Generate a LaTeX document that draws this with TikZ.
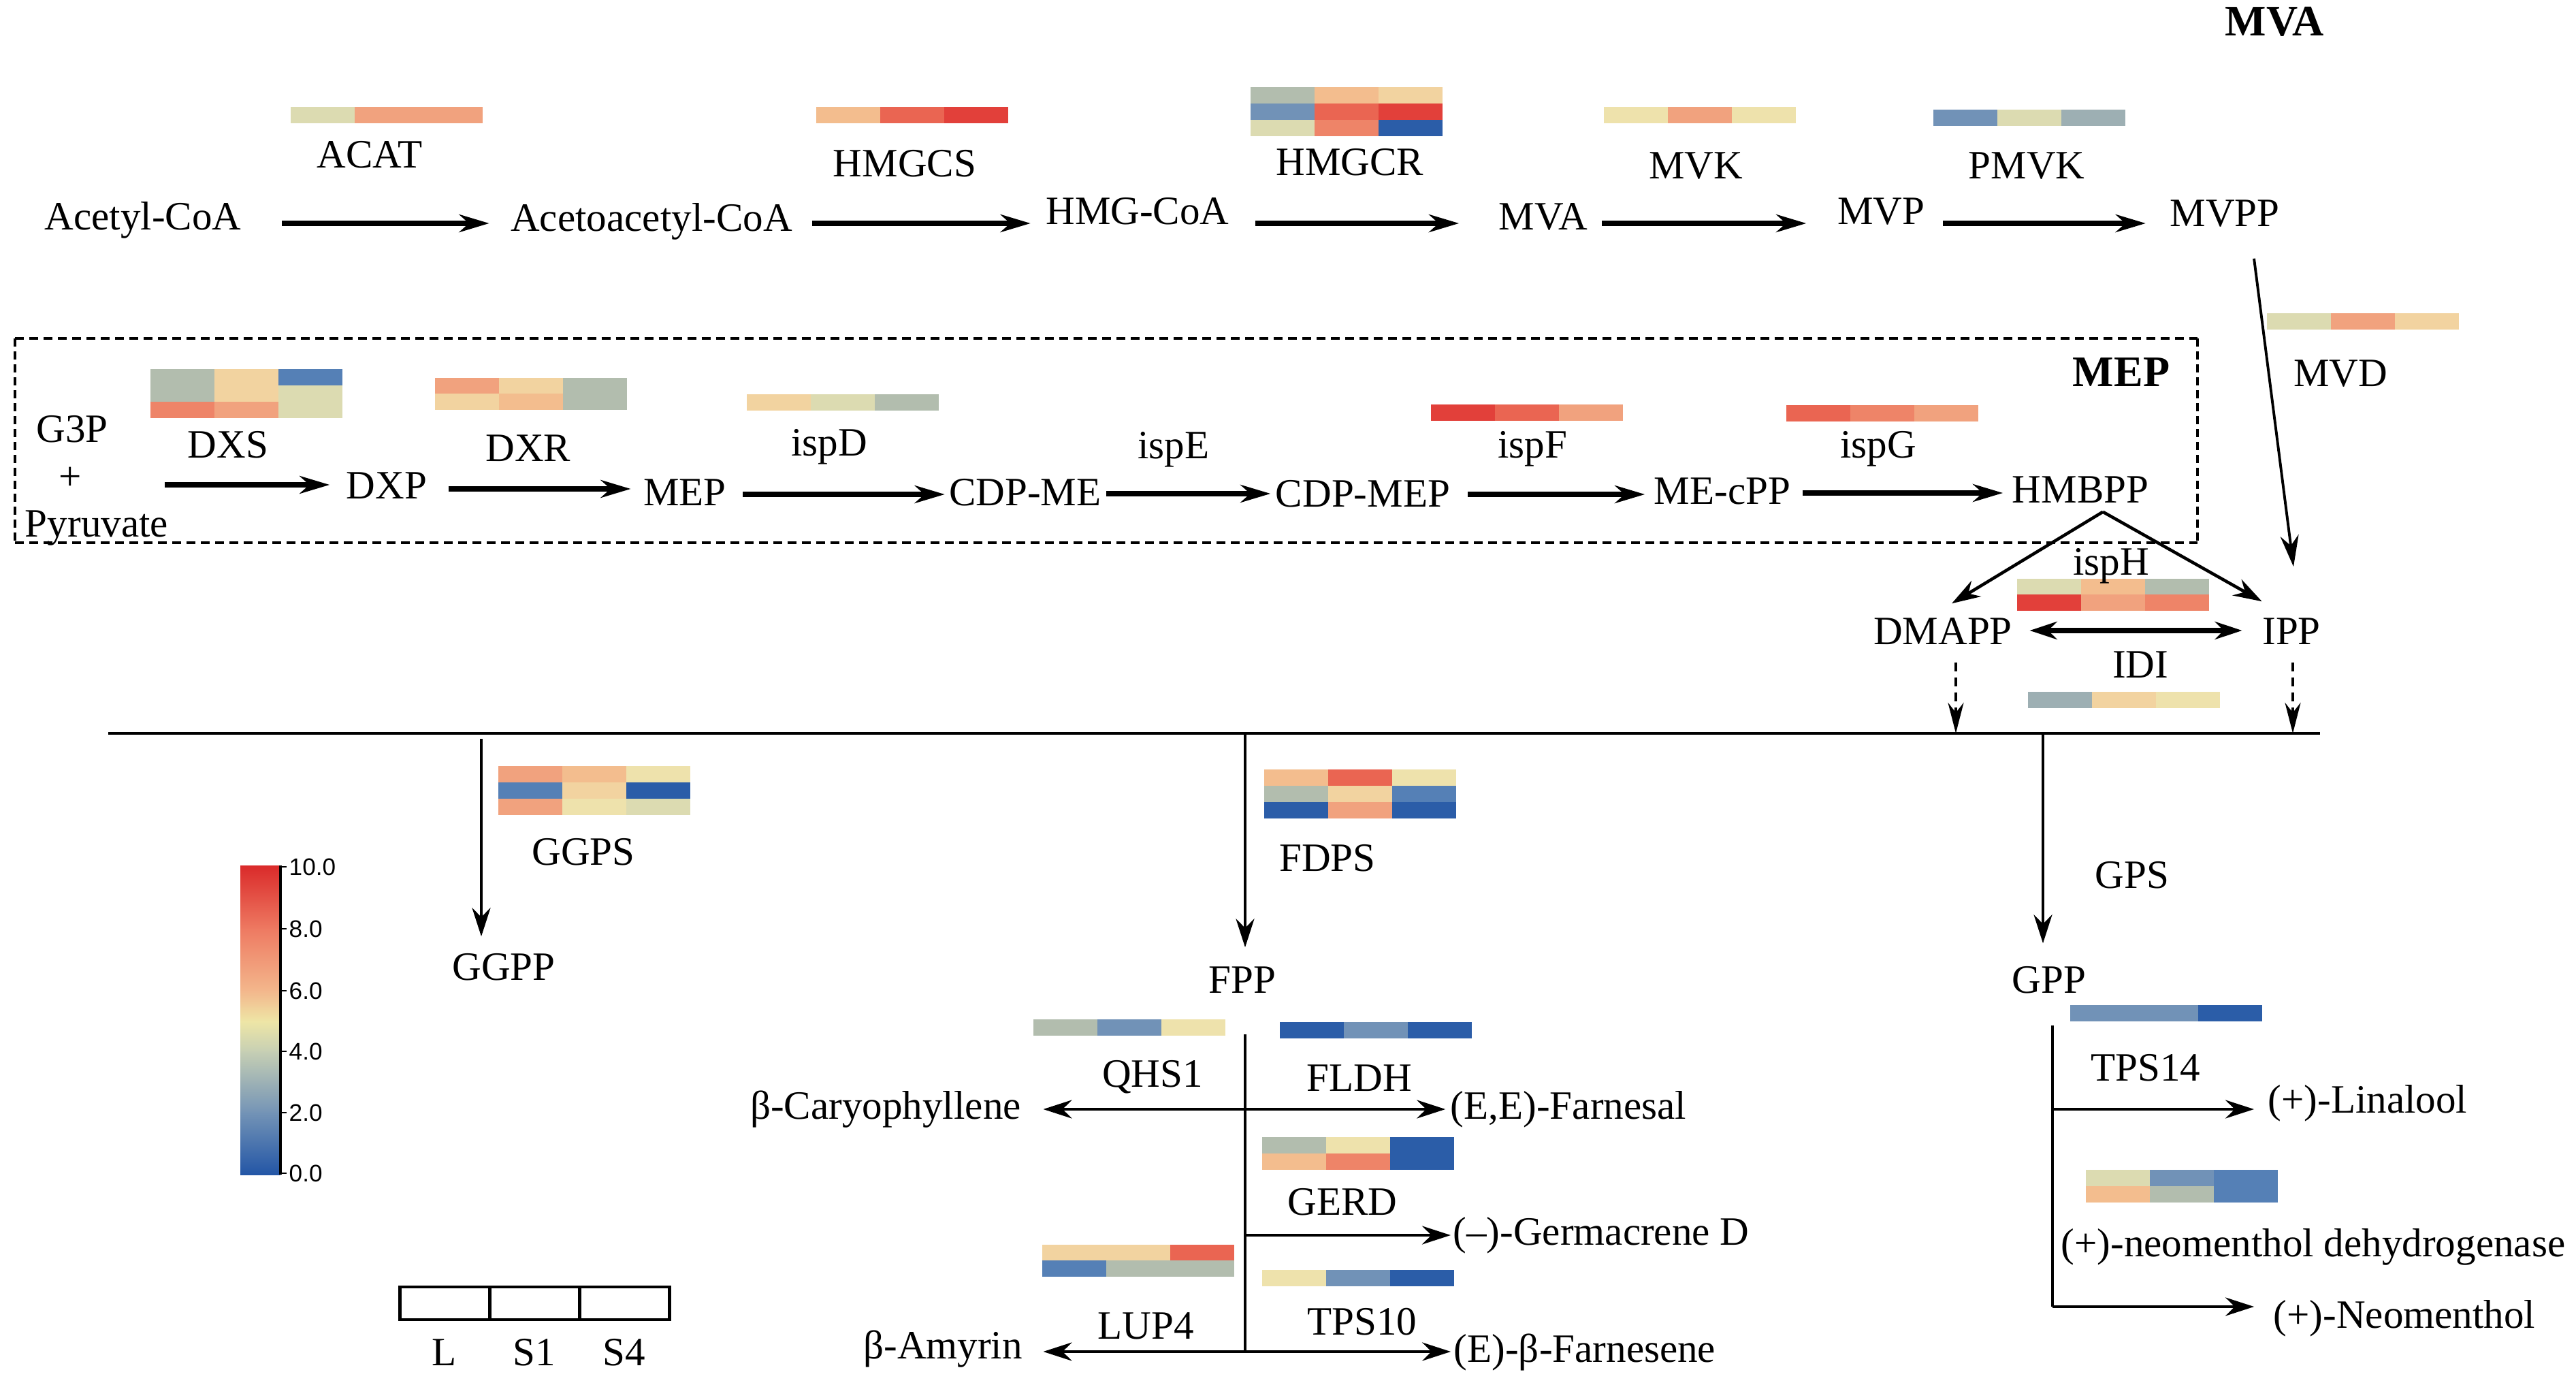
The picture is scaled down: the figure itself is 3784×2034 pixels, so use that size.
\documentclass[tikz,border=0pt]{standalone}
\usepackage{fontspec}
\setmainfont{Liberation Serif}
\newfontfamily\cbfont{Liberation Sans}
\usetikzlibrary{arrows.meta}
\definecolor{hR}{HTML}{E2403A}
\definecolor{hR8}{HTML}{EA6552}
\definecolor{hS7}{HTML}{EE8468}
\definecolor{hS6}{HTML}{F1A27E}
\definecolor{hP55}{HTML}{F3BD8E}
\definecolor{hP5}{HTML}{F2D3A0}
\definecolor{hY}{HTML}{EEE2AC}
\definecolor{hYG}{HTML}{DCDBB1}
\definecolor{hG}{HTML}{B2BDAE}
\definecolor{hGB}{HTML}{9DAFB3}
\definecolor{hB2}{HTML}{7192B7}
\definecolor{hB1}{HTML}{5580B6}
\definecolor{hB0}{HTML}{2B5DA8}
\definecolor{cb0}{HTML}{2356A6}
\definecolor{cb2}{HTML}{7393B6}
\definecolor{cb4}{HTML}{C6CFB4}
\definecolor{cb5}{HTML}{EEE6A6}
\definecolor{cb6}{HTML}{F3B78C}
\definecolor{cb8}{HTML}{EE7A62}
\definecolor{cb10}{HTML}{DA2A2A}
\newcommand\fs{\fontsize{16.8pt}{20pt}\selectfont}
\newcommand\fsb{\fontsize{18.2pt}{22pt}\selectfont\bfseries}
% heat map row: x, y(top), three colours
\newcommand\hmrow[5]{%
  \fill[#3] (#1,#2) rectangle ++(95,24);
  \fill[#4] (#1+94,#2) rectangle ++(95,24);
  \fill[#5] (#1+188,#2) rectangle ++(94,24);}
\begin{document}
\begin{tikzpicture}[x=0.01cm,y=-0.01cm,
  lbl/.style={font=\fs, inner sep=0pt, anchor=base, text height=0.40cm, text depth=0.12cm},
  hdr/.style={font=\fsb, inner sep=0pt, anchor=base},
  thickarr/.style={line width=2pt, -{Stealth[length=0.44cm,width=0.26cm]}},
  dblarr/.style={line width=2pt, {Stealth[length=0.40cm,width=0.26cm]}-{Stealth[length=0.40cm,width=0.26cm]}},
  medarr/.style={line width=1.3pt, -{Stealth[length=0.42cm,width=0.27cm]}},
  thinarr/.style={line width=1.1pt, -{Stealth[length=0.46cm,width=0.27cm]}},
  dasharr/.style={line width=1.1pt, dash pattern=on 0.13cm off 0.09cm, -{Stealth[length=0.45cm,width=0.23cm]}},
  plainline/.style={line width=1.4pt},
  boxdashh/.style={line width=1.3pt, dash pattern=on 0.13cm off 0.08cm},
  boxdashv/.style={line width=1.3pt, dash pattern=on 0.12cm off 0.07cm},
  legcell/.style={draw, line width=1.2pt, minimum width=1.32cm, minimum height=0.48cm, inner sep=0pt},
  cblbl/.style={font=\cbfont\fontsize{10pt}{12pt}\selectfont, anchor=west, inner sep=0pt}
]
\useasboundingbox (0,0) rectangle (3784,2034);

% ---------------- heat maps ----------------
\hmrow{427}{157}{hYG}{hS6}{hS6}          % ACAT
\hmrow{1199}{157}{hP55}{hR8}{hR}         % HMGCS
\hmrow{1837}{128}{hG}{hP55}{hP5}         % HMGCR
\hmrow{1837}{152}{hB2}{hR8}{hR}
\hmrow{1837}{176}{hYG}{hS7}{hB0}
\hmrow{2356}{157}{hY}{hS6}{hY}           % MVK
\hmrow{2840}{161}{hB2}{hYG}{hGB}         % PMVK
\hmrow{3330}{460}{hYG}{hS6}{hP5}         % MVD
\hmrow{221}{542}{hG}{hP5}{hB1}           % DXS
\hmrow{221}{566}{hG}{hP5}{hYG}
\hmrow{221}{590}{hS7}{hS6}{hYG}
\hmrow{639}{555}{hS6}{hP5}{hG}           % DXR
\hmrow{639}{578}{hP5}{hP55}{hG}
\hmrow{1097}{579}{hP5}{hYG}{hG}          % ispD
\hmrow{2102}{594}{hR}{hR8}{hS6}          % ispF
\hmrow{2624}{595}{hR8}{hS7}{hS6}         % ispG
\hmrow{2963}{850}{hYG}{hP55}{hG}         % ispH
\hmrow{2963}{873}{hR}{hS6}{hS7}
\hmrow{2979}{1016}{hGB}{hP5}{hY}         % IDI
\hmrow{732}{1125}{hS6}{hP55}{hY}         % GGPS
\hmrow{732}{1149}{hB1}{hP5}{hB0}
\hmrow{732}{1173}{hS6}{hY}{hYG}
\hmrow{1857}{1130}{hP55}{hR8}{hY}        % FDPS
\hmrow{1857}{1154}{hG}{hP5}{hB1}
\hmrow{1857}{1178}{hB0}{hS6}{hB0}
\hmrow{1518}{1497}{hG}{hB2}{hY}          % QHS1
\hmrow{1880}{1501}{hB0}{hB2}{hB0}        % FLDH
\hmrow{1854}{1670}{hG}{hY}{hB0}          % GERD
\hmrow{1854}{1694}{hP55}{hS7}{hB0}
\hmrow{1531}{1828}{hP5}{hP5}{hR8}        % LUP4
\hmrow{1531}{1851}{hB1}{hG}{hG}
\hmrow{1854}{1865}{hY}{hB2}{hB0}         % TPS10
\hmrow{3041}{1476}{hB2}{hB2}{hB0}        % TPS14
\hmrow{3064}{1718}{hYG}{hB2}{hB1}        % (+)-neomenthol dehydrogenase
\hmrow{3064}{1742}{hP55}{hG}{hB1}

% ---------------- MVA pathway ----------------
\node[hdr] (mvaT) at (3341,53) {MVA};
\node[lbl] (acat) at (543,247) {ACAT};
\node[lbl] (hmgcs) at (1329,260) {HMGCS};
\node[lbl] (hmgcr) at (1983,258) {HMGCR};
\node[lbl] (mvk) at (2491,263) {MVK};
\node[lbl] (pmvk) at (2977,263) {PMVK};
\node[lbl] (acetyl) at (210,338) {Acetyl-CoA};
\node[lbl] (acetoac) at (957,340) {Acetoacetyl-CoA};
\node[lbl] (hmgcoa) at (1671,330) {HMG-CoA};
\node[lbl] (mva) at (2267,338) {MVA};
\node[lbl] (mvp) at (2763,330) {MVP};
\node[lbl] (mvpp) at (3268,333) {MVPP};
\node[lbl] (mvd) at (3438,568) {MVD};

\coordinate (rA) at (0,328);
\draw[thickarr, shorten <=0.59cm, shorten >=0.31cm] (acetyl.east |- rA) -- (acetoac.west |- rA);
\draw[thickarr, shorten <=0.29cm, shorten >=0.22cm] (acetoac.east |- rA) -- (hmgcoa.west |- rA);
\draw[thickarr, shorten <=0.38cm, shorten >=0.58cm] (hmgcoa.east |- rA) -- (mva.west |- rA);
\draw[thickarr, shorten <=0.20cm, shorten >=0.45cm] (mva.east |- rA) -- (mvp.west |- rA);
\draw[thickarr, shorten <=0.26cm, shorten >=0.35cm] (mvp.east |- rA) -- (mvpp.west |- rA);

% ---------------- MEP pathway ----------------
\coordinate (bxTL) at (22,497);
\coordinate (bxBR) at (3228,797);
\draw[boxdashh] (bxTL) -- (bxTL -| bxBR);
\draw[boxdashh] (bxTL |- bxBR) -- (bxBR);
\draw[boxdashv] (bxTL) -- (bxTL |- bxBR);
\draw[boxdashv] (bxTL -| bxBR) -- (bxBR);
\node[hdr] (mepT) at (3116,568) {MEP};
\node[lbl] (g3p) at (106,650) {G3P};
\node[lbl] (plus) at (103,720) {+};
\node[lbl] (pyr) at (142,789) {Pyruvate};
\node[lbl] (dxs) at (335,673) {DXS};
\node[lbl] (dxr) at (776,678) {DXR};
\node[lbl] (ispd) at (1218,670) {ispD};
\node[lbl] (ispe) at (1724,674) {ispE};
\node[lbl] (ispf) at (2251,673) {ispF};
\node[lbl] (ispg) at (2759,673) {ispG};
\node[lbl] (dxp) at (568,733) {DXP};
\node[lbl] (mep) at (1006,743) {MEP};
\node[lbl] (cdpme) at (1506,743) {CDP-ME};
\node[lbl] (cdpmep) at (2002,745) {CDP-MEP};
\node[lbl] (mecpp) at (2530,741) {ME-cPP};
\node[lbl] (hmbpp) at (3056,739) {HMBPP};
\node[lbl] (isph) at (3101,844) {ispH};
\node[lbl] (dmapp) at (2854,946) {DMAPP};
\node[lbl] (ipp) at (3366,946) {IPP};
\node[lbl] (idi) at (3144,995) {IDI};

\coordinate (rB1) at (0,712);
\coordinate (rB2) at (0,718);
\coordinate (rB3) at (0,726);
\coordinate (rB4) at (0,725);
\coordinate (rB5) at (0,726);
\coordinate (rB6) at (0,724);
\draw[thickarr, shorten <=1.22cm, shorten >=0.24cm] (plus.east |- rB1) -- (dxp.west |- rB1);
\draw[thickarr, shorten <=0.31cm, shorten >=0.18cm] (dxp.east |- rB2) -- (mep.west |- rB2);
\draw[thickarr, shorten <=0.24cm, shorten >=0.06cm] (mep.east |- rB3) -- (cdpme.west |- rB3);
\draw[thickarr, shorten <=0.07cm, shorten >=0.07cm] (cdpme.east |- rB4) -- (cdpmep.west |- rB4);
\draw[thickarr, shorten <=0.25cm, shorten >=0.13cm] (cdpmep.east |- rB5) -- (mecpp.west |- rB5);
\draw[thickarr, shorten <=0.17cm, shorten >=0.13cm] (mecpp.east |- rB6) -- (hmbpp.west |- rB6);

% MVPP -> IPP (MVD)
\draw[thinarr] ([xshift=0.43cm,yshift=-0.34cm]mvpp.south) -- ([xshift=0.03cm,yshift=0.73cm]ipp.north);
% HMBPP -> DMAPP / IPP (ispH)
\draw[medarr] ([xshift=0.33cm]hmbpp.south) -- ([xshift=0.13cm,yshift=0.19cm]dmapp.north);
\draw[medarr] ([xshift=0.33cm]hmbpp.south) -- ([yshift=0.22cm]ipp.north west);
% DMAPP <-> IPP (IDI)
\coordinate (rI) at (0,926);
\draw[dblarr, shorten <=0.25cm, shorten >=0.29cm] (dmapp.east |- rI) -- (ipp.west |- rI);

% ---------------- main line ----------------
\coordinate (mL) at (159,1077);
\coordinate (mR) at (3408,1077);
\draw[plainline] (mL) -- (mR);
\coordinate (jD) at (2873,1077);
\coordinate (jI) at (3368,1077);
\draw[dasharr, shorten <=0.14cm] (dmapp.south -| jD) -- (jD);
\draw[dasharr, shorten <=0.14cm] (ipp.south -| jI) -- (jI);

% ---------------- GGPP branch ----------------
\node[lbl] (ggps) at (857,1270) {GGPS};
\node[lbl] (ggpp) at (740,1439) {GGPP};
\coordinate (jG) at (707,1077);
\draw[medarr, shorten <=0.08cm, shorten >=0.23cm] (jG) -- (jG |- ggpp.north);

% ---------------- FPP branch ----------------
\node[lbl] (fdps) at (1950,1279) {FDPS};
\node[lbl] (fpp) at (1825,1458) {FPP};
\coordinate (jF) at (1829,1077);
\draw[medarr, shorten >=0.26cm] (jF) -- (jF |- fpp.north);
\node[lbl] (qhs1) at (1693,1596) {QHS1};
\node[lbl] (fldh) at (1997,1602) {FLDH};
\node[lbl] (caryo) at (1301,1643) {β-Caryophyllene};
\node[lbl] (farnesal) at (2304,1643) {(E,E)-Farnesal};
\node[lbl] (gerd) at (1972,1784) {GERD};
\node[lbl] (germ) at (2352,1828) {(–)-Germacrene D};
\node[lbl] (lup4) at (1683,1966) {LUP4};
\node[lbl] (tps10) at (2001,1960) {TPS10};
\node[lbl] (amyrin) at (1385,1995) {β-Amyrin};
\node[lbl] (farnesene) at (2328,2000) {(E)-β-Farnesene};
\coordinate (fB) at (1829,1985);
\draw[plainline, shorten <=0.48cm] (fpp.south -| fB) -- (fB);
\draw[medarr, shorten >=0.32cm] (caryo.east -| fB) -- (caryo.east);
\draw[medarr, shorten >=0.07cm] (farnesal.west -| fB) -- (farnesal.west);
\draw[medarr, shorten >=0.03cm] (germ.west -| fB) -- (germ.west);
\draw[medarr, shorten >=0.30cm] (fB) -- (fB -| amyrin.east);
\draw[medarr, shorten >=0.04cm] (fB) -- (fB -| farnesene.west);

% ---------------- GPP branch ----------------
\node[lbl] (gps) at (3132,1304) {GPS};
\node[lbl] (gpp) at (3010,1458) {GPP};
\coordinate (jP) at (3001,1077);
\draw[medarr, shorten >=0.32cm] (jP) -- (jP |- gpp.north);
\node[lbl] (tps14) at (3152,1587) {TPS14};
\node[lbl] (linalool) at (3478,1634) {(+)-Linalool};
\node[lbl] (neodh) at (3398,1845) {(+)-neomenthol dehydrogenase};
\node[lbl] (neomenthol) at (3532,1950) {(+)-Neomenthol};
\coordinate (gB) at (3015,1919);
\coordinate (gL) at (3015,1629);
\draw[plainline, shorten <=0.35cm] (gpp.south -| gB) -- (gB);
\draw[medarr, shorten >=0.20cm] (gL) -- (gL -| linalool.west);
\draw[medarr, shorten >=0.28cm] (gB) -- (gB -| neomenthol.west);

% ---------------- colour bar ----------------
\shade[top color=cb10, bottom color=cb8] (353,1271) rectangle (412,1365);
\shade[top color=cb8, bottom color=cb6] (353,1364) rectangle (412,1456);
\shade[top color=cb6, bottom color=cb5] (353,1455) rectangle (412,1501);
\shade[top color=cb5, bottom color=cb4] (353,1500) rectangle (412,1545);
\shade[top color=cb4, bottom color=cb2] (353,1544) rectangle (412,1635);
\shade[top color=cb2, bottom color=cb0] (353,1634) rectangle (412,1725);
\draw[line width=0.9pt] (412,1271) -- (412,1725);
\foreach \v/\yy [count=\i] in {10.0/1273, 8.0/1364, 6.0/1455, 4.0/1544, 2.0/1634, 0.0/1723} {
  \draw[line width=0.8pt] (412,\yy) -- (421,\yy);
  \node[cblbl] (tick\i) at (424,\yy) {\v};
}

% ---------------- legend ----------------
\node[legcell] (lgL) at (653.5,1914) {};
\node[legcell] (lgS1) at (785.5,1914) {};
\node[legcell] (lgS4) at (917.5,1914) {};
\node[lbl] (tL) at (653,2005) {L};
\node[lbl] (tS1) at (785,2005) {S1};
\node[lbl] (tS4) at (917,2005) {S4};
\end{tikzpicture}
\end{document}
